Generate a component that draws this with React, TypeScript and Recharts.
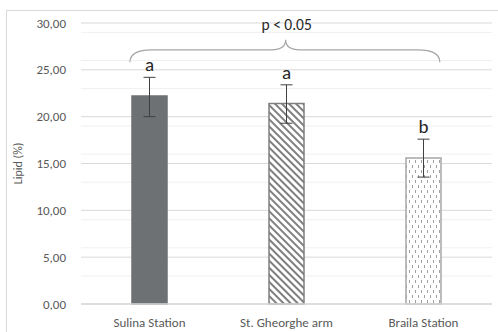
import React from 'react';
import {
  BarChart,
  Bar,
  XAxis,
  YAxis,
  CartesianGrid,
  ErrorBar,
  Cell,
  ReferenceArea,
  ReferenceDot,
} from 'recharts';

const categories = ['Sulina Station', 'St. Gheorghe arm', 'Braila Station'];
const lipid = [22.2, 21.4, 15.6];
// [below, above] the mean
const errors = [
  [2.2, 2.0],
  [2.1, 2.0],
  [2.05, 2.0],
];
const letters = ['a', 'a', 'b'];
const yTicks = [0, 5, 10, 15, 20, 25, 30];
const minorTicks = [
  1, 2, 3, 4, 6, 7, 8, 9, 11, 12, 13, 14, 16, 17, 18, 19, 21, 22, 23, 24, 26, 27, 28, 29,
];
const braceBottom = 25.8;
const braceTop = 28.2;
const pLabel = 'p < 0.05';

const fills = ['#6e7173', 'url(#hatch)', 'url(#dots)'];
const strokes = ['#6e7173', '#7f7f7f', '#a6a6a6'];

const data = categories.map((name, i) => ({
  name,
  lipid: lipid[i],
  err: errors[i],
  top: lipid[i] + errors[i][1],
  letter: letters[i],
}));

const FONT = 'Calibri, Carlito, "Open Sans", sans-serif';

const fmt = (v: number) => v.toFixed(2).replace('.', ',');

// brace spans from left edge of first bar to right edge of last bar
function Brace(props: any) {
  const { x, y, width, height } = props;
  const left = x + width * 0.119;
  const right = x + width * 0.873;
  const mid = x + width * 0.498;
  const bottom = y + height;
  const flat = y + 10;
  const d = [
    `M${left},${bottom}`,
    `Q${left},${flat} ${left + 22},${flat}`,
    `L${mid - 14},${flat}`,
    `Q${mid},${flat} ${mid},${y}`,
    `Q${mid},${flat} ${mid + 14},${flat}`,
    `L${right - 22},${flat}`,
    `Q${right},${flat} ${right},${bottom}`,
  ].join(' ');
  return (
    <g>
      <path d={d} fill="none" stroke="#a6a6a6" strokeWidth={1.2} />
      <text
        x={mid + 1}
        y={y - 10}
        textAnchor="middle"
        fontSize={15.5}
        fontFamily={FONT}
        fill="#262626"
      >
        {pLabel}
      </text>
    </g>
  );
}

export default function App() {
  return (
    <div style={{ position: 'absolute', left: 0, top: 0, width: 498, height: 332, background: '#fff' }}>
      <div
        style={{
          position: 'absolute',
          left: 6,
          top: 10,
          width: 500,
          height: 330,
          border: '1px solid #d9d9d9',
        }}
      />
      <BarChart
        width={498}
        height={332}
        data={data}
        margin={{ top: 23, right: 6, bottom: 0, left: 0 }}
        barSize={35}
        style={{ position: 'absolute', left: 0, top: 0, fontFamily: FONT }}
      >
        <defs>
          <pattern
            id="hatch"
            patternUnits="userSpaceOnUse"
            width={5}
            height={5}
            patternTransform="rotate(-45)"
          >
            <rect width={5} height={5} fill="#fff" />
            <line x1={1} y1={0} x2={1} y2={5} stroke="#7f7f7f" strokeWidth={2} />
          </pattern>
          <pattern id="dots" patternUnits="userSpaceOnUse" width={6} height={10}>
            <rect width={6} height={10} fill="#fff" />
            <line x1={1.5} y1={0} x2={1.5} y2={3} stroke="#a0a0a0" strokeWidth={1} />
            <line x1={4.5} y1={5} x2={4.5} y2={8} stroke="#a0a0a0" strokeWidth={1} />
          </pattern>
        </defs>
        <CartesianGrid
          vertical={false}
          horizontalValues={minorTicks}
          stroke="#f0f0f0"
          strokeWidth={1}
        />
        <CartesianGrid vertical={false} horizontalValues={yTicks} stroke="#d9d9d9" strokeWidth={1} />
        <XAxis
          dataKey="name"
          height={28}
          tickLine={false}
          axisLine={{ stroke: '#d9d9d9', strokeWidth: 1.5 }}
          tickMargin={8}
          tick={{ fontSize: 13, fill: '#595959', fontFamily: FONT }}
        />
        <YAxis
          width={81}
          domain={[0, 30]}
          ticks={yTicks}
          tickFormatter={fmt}
          tickLine={false}
          axisLine={false}
          tickMargin={9}
          tick={{ fontSize: 13, fill: '#595959', fontFamily: FONT }}
          label={{
            value: 'Lipid (%)',
            angle: -90,
            position: 'insideLeft',
            offset: 18,
            style: { textAnchor: 'middle', fontSize: 12, fill: '#595959', fontFamily: FONT },
          }}
        />
        <Bar dataKey="lipid" isAnimationActive={false} strokeWidth={1.5}>
          {data.map((d, i) => (
            <Cell key={d.name} fill={fills[i]} stroke={strokes[i]} />
          ))}
          <ErrorBar dataKey="err" width={6} stroke="#404040" strokeWidth={1} direction="y" />
        </Bar>
        <ReferenceArea
          x1={categories[0]}
          x2={categories[2]}
          y1={braceBottom}
          y2={braceTop}
          ifOverflow="visible"
          shape={<Brace />}
        />
        {data.map((d) => (
          <ReferenceDot
            key={d.name}
            x={d.name}
            y={d.top}
            r={0}
            fill="none"
            stroke="none"
            ifOverflow="visible"
            label={{
              value: d.letter,
              position: 'top',
              offset: 6,
              style: { fontSize: 19, fill: '#262626', fontFamily: FONT },
            }}
          />
        ))}
      </BarChart>
    </div>
  );
}
